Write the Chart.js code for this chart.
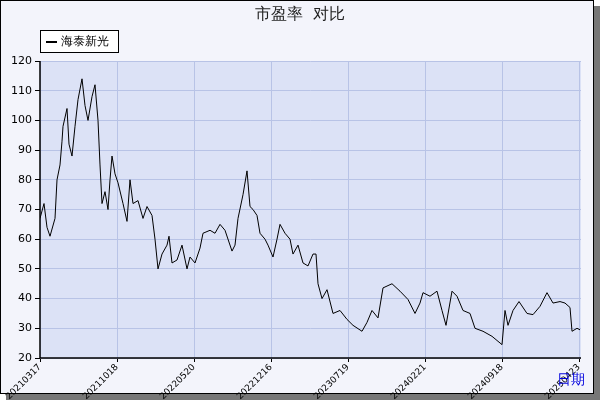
<!DOCTYPE html>
<html><head><meta charset="utf-8">
<script src="https://cdn.jsdelivr.net/npm/chart.js@4"></script>
<style>html,body{margin:0;padding:0;background:#fff}</style>
</head><body>
<canvas id="c" width="600" height="400" style="width:600px;height:400px"></canvas>
<script>
const tickLabels = ["20210317","20211018","20220520","20221216","20230719","20240221","20240918","20250423"];
const t = [0,4,7,10,15,17,20,22,23,27,29,32,35,38,42,45,48,52,55,58,60,62,65,68,70,72,75,78,83,87,90,93,98,103,107,112,115,118,122,127,129,132,137,142,147,150,155,160,163,170,175,180,185,192,195,198,203,207,210,213,217,220,225,228,233,237,240,245,250,253,258,263,268,273,276,278,282,287,293,300,307,313,322,327,332,338,343,352,360,368,375,380,383,390,397,402,406,412,417,423,430,435,443,452,462,465,468,473,479,487,493,500,507,513,520,525,530,532,537,540];
const pe = [67,72,64,61,67,80,85,93,98,104,92,88,98,107,114,105,100,108,112,100,85,72,76,70,80,88,82,79,72,66,80,72,73,67,71,68,60,50,55,58,61,52,53,58,50,54,52,57,62,63,62,65,63,56,58,67,75,83,71,70,68,62,60,58,54,60,65,62,60,55,58,52,51,55,55,45,40,43,35,36,33,31,29,32,36,33.5,43.6,45,42.5,39.7,35,38.5,42,40.8,42.5,36,31,42.5,40.8,36,35,30,29,27.3,24.5,36,31,36,39,35,34.6,37.4,42,38.5,39,38.5,37,29,30,29.5];
const seriesName = "海泰新光";
const FONT = "'DejaVu Sans', sans-serif";
const deco = {
  id:'deco',
  beforeDraw(c){
    const g=c.ctx; g.save();
    g.fillStyle='#777'; g.fillRect(6,6,594,394);
    g.fillStyle='#f3f4fb'; g.fillRect(0,0,594,394);
    g.strokeStyle='#000'; g.lineWidth=1; g.strokeRect(0.5,0.5,593,393);
    const a=c.chartArea; g.fillStyle='#dce2f6'; g.fillRect(a.left,a.top,a.right-a.left,a.bottom-a.top);
    g.restore();
  },
  afterDraw(c){
    const g=c.ctx; g.save();
    g.fillStyle='#222'; g.font="16px "+FONT; g.textAlign='center'; g.textBaseline='middle';
    g.fillText("市盈率  对比",300,15);
    g.fillStyle='#fff'; g.fillRect(40.5,30.5,78,22); g.strokeStyle='#000'; g.strokeRect(40.5,30.5,78,22);
    g.beginPath(); g.moveTo(46,42); g.lineTo(57,42); g.lineWidth=2; g.stroke();
    g.fillStyle='#000'; g.font="12px "+FONT; g.textAlign='left'; g.fillText(seriesName,61,42);
    g.fillStyle='#0000dd'; g.font="14px "+FONT; g.fillText("日期",557,380);
    const a=c.chartArea; g.strokeStyle='#000'; g.lineWidth=1.5; g.beginPath();
    g.moveTo(a.left,a.top); g.lineTo(a.left,a.bottom); g.lineTo(a.right,a.bottom); g.stroke();
    g.restore();
  }
};
new Chart(document.getElementById('c'),{
  type:'line',
  data:{datasets:[{data:t.map((x,i)=>({x:x,y:pe[i]})),borderColor:'#000',borderWidth:1,pointRadius:0,tension:0}]},
  options:{responsive:false,animation:false,
    layout:{padding:{left:0,top:61,right:19,bottom:0}},
    plugins:{legend:{display:false},tooltip:{enabled:false}},
    scales:{
      x:{type:'linear',min:0,max:541,afterFit(s){s.height=42;},
        afterBuildTicks(s){s.ticks=tickLabels.map((_,i)=>({value:i*77}));},
        ticks:{autoSkip:false,maxRotation:45,minRotation:45,padding:0,color:'#000',font:{size:9,family:FONT},
          callback:(v)=>tickLabels[Math.round(v/77)]},
        grid:{color:'#b8c3e6',tickLength:4,tickColor:'#000'},border:{display:false}},
      y:{min:20,max:120,afterFit(s){s.width=40;},
        ticks:{stepSize:10,color:'#000',font:{size:11,family:FONT}},
        grid:{color:'#b8c3e6',tickLength:5,tickColor:'#000'},border:{display:false}}
    }}
,plugins:[deco]});
</script></body></html>
